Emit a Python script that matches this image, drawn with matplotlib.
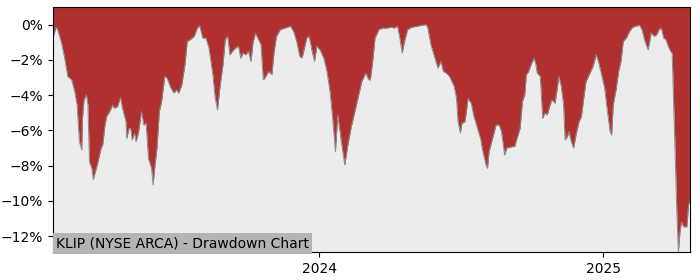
import numpy as np
import pandas as pd
import matplotlib
matplotlib.use('Agg')
import matplotlib.pyplot as plt
import matplotlib.dates as mdates
import matplotlib.ticker as mtick

ticker = 'KLIP'
exchange = 'NYSE ARCA'

# drawdown (%)
dates = [
    '2023-01-23', '2023-01-27', '2023-01-29', '2023-02-03', '2023-02-07', '2023-02-11',
    '2023-02-16', '2023-02-20', '2023-02-23', '2023-02-26', '2023-03-01', '2023-03-02',
    '2023-03-04', '2023-03-07', '2023-03-09', '2023-03-11', '2023-03-14', '2023-03-16',
    '2023-03-18', '2023-03-22', '2023-03-26', '2023-03-28', '2023-03-31', '2023-04-02',
    '2023-04-06', '2023-04-10', '2023-04-12', '2023-04-16', '2023-04-20', '2023-04-22',
    '2023-04-27', '2023-04-28', '2023-05-01', '2023-05-03', '2023-05-05', '2023-05-08',
    '2023-05-10', '2023-05-13', '2023-05-17', '2023-05-20', '2023-05-23', '2023-05-26',
    '2023-05-30', '2023-06-01', '2023-06-03', '2023-06-06', '2023-06-09', '2023-06-12',
    '2023-06-16', '2023-06-19', '2023-06-24', '2023-06-28', '2023-07-01', '2023-07-04',
    '2023-07-08', '2023-07-12', '2023-07-15', '2023-07-19', '2023-07-24', '2023-07-28',
    '2023-07-31', '2023-08-04', '2023-08-08', '2023-08-12', '2023-08-17', '2023-08-20',
    '2023-08-23', '2023-08-26', '2023-08-30', '2023-09-02', '2023-09-05', '2023-09-08',
    '2023-09-11', '2023-09-15', '2023-09-19', '2023-09-22', '2023-09-25', '2023-09-28',
    '2023-10-02', '2023-10-05', '2023-10-08', '2023-10-11', '2023-10-15', '2023-10-18',
    '2023-10-21', '2023-10-23', '2023-10-28', '2023-11-01', '2023-11-04', '2023-11-07',
    '2023-11-12', '2023-11-18', '2023-11-25', '2023-11-29', '2023-12-03', '2023-12-07',
    '2023-12-10', '2023-12-13', '2023-12-16', '2023-12-19', '2023-12-23', '2023-12-26',
    '2023-12-29', '2024-01-02', '2024-01-07', '2024-01-11', '2024-01-15', '2024-01-18',
    '2024-01-22', '2024-01-25', '2024-01-29', '2024-02-03', '2024-02-07', '2024-02-11',
    '2024-02-16', '2024-02-21', '2024-02-25', '2024-03-01', '2024-03-05', '2024-03-07',
    '2024-03-10', '2024-03-13', '2024-03-18', '2024-03-23', '2024-03-27', '2024-04-03',
    '2024-04-07', '2024-04-11', '2024-04-14', '2024-04-17', '2024-04-20', '2024-04-24',
    '2024-04-29', '2024-05-06', '2024-05-12', '2024-05-18', '2024-05-20', '2024-05-24',
    '2024-05-28', '2024-06-02', '2024-06-06', '2024-06-09', '2024-06-13', '2024-06-17',
    '2024-06-23', '2024-06-26', '2024-06-28', '2024-07-01', '2024-07-03', '2024-07-07',
    '2024-07-11', '2024-07-15', '2024-07-18', '2024-07-23', '2024-07-27', '2024-07-30',
    '2024-08-03', '2024-08-05', '2024-08-07', '2024-08-11', '2024-08-16', '2024-08-20',
    '2024-08-23', '2024-08-27', '2024-08-30', '2024-09-06', '2024-09-09', '2024-09-12',
    '2024-09-16', '2024-09-19', '2024-09-22', '2024-09-24', '2024-09-27', '2024-09-30',
    '2024-10-04', '2024-10-06', '2024-10-08', '2024-10-12', '2024-10-15', '2024-10-18',
    '2024-10-21', '2024-10-24', '2024-10-27', '2024-10-31', '2024-11-02', '2024-11-05',
    '2024-11-08', '2024-11-11', '2024-11-13', '2024-11-16', '2024-11-18', '2024-11-21',
    '2024-11-24', '2024-11-27', '2024-12-01', '2024-12-04', '2024-12-07', '2024-12-10',
    '2024-12-13', '2024-12-16', '2024-12-19', '2024-12-23', '2024-12-26', '2024-12-30',
    '2025-01-03', '2025-01-06', '2025-01-10', '2025-01-12', '2025-01-14', '2025-01-18',
    '2025-01-21', '2025-01-24', '2025-01-27', '2025-01-31', '2025-02-04', '2025-02-08',
    '2025-02-12', '2025-02-17', '2025-02-20', '2025-02-24', '2025-02-28', '2025-03-04',
    '2025-03-08', '2025-03-11', '2025-03-14', '2025-03-17', '2025-03-20', '2025-03-23',
    '2025-03-26', '2025-03-29', '2025-03-31', '2025-04-02', '2025-04-04', '2025-04-06',
    '2025-04-08', '2025-04-10', '2025-04-12', '2025-04-15', '2025-04-19', '2025-04-21',
    '2025-04-23',
]
drawdown = [
    -0.7, -0.15, -0.28, -1.04, -1.9, -2.94,
    -3.13, -3.8, -4.55, -6.64, -7.1, -5.3,
    -4.27, -3.98, -4.55, -7.78, -8.15, -8.8,
    -8.44, -7.78, -7.0, -6.83, -5.69, -5.22,
    -4.93, -4.55, -4.74, -4.65, -4.13, -4.65,
    -5.5, -6.45, -5.88, -5.88, -6.54, -6.16,
    -6.64, -6.16, -4.93, -5.69, -5.6, -7.6,
    -8.15, -9.1, -8.15, -7.0, -4.93, -4.36,
    -2.94, -3.03, -3.6, -3.88, -3.7, -3.88,
    -3.41, -2.28, -0.95, -0.85, -0.66, -0.19,
    -0.06, -0.76, -0.76, -1.33, -2.84, -4.17,
    -4.84, -3.6, -2.28, -0.85, -0.66, -1.71,
    -1.52, -1.33, -1.23, -1.9, -1.61, -1.71,
    -1.52, -2.09, -0.95, -0.5, -0.85, -1.14,
    -3.13, -3.03, -2.65, -2.84, -1.52, -0.66,
    -0.28, -0.19, -0.09, -0.38, -0.95, -1.8,
    -1.9, -1.33, -0.76, -0.66, -1.52, -2.09,
    -1.23, -1.42, -1.9, -2.65, -3.8, -5.12,
    -7.2, -5.12, -6.45, -7.96, -6.83, -5.88,
    -4.93, -3.98, -3.22, -2.75, -3.13, -3.13,
    -2.09, -0.76, -0.28, -0.19, -0.2, -0.15,
    -0.19, -0.09, -0.76, -1.61, -0.95, -0.28,
    -0.15, -0.09, -0.04, 0.0, -0.19, -1.14,
    -1.71, -2.46, -2.09, -2.65, -2.75, -2.94,
    -3.5, -4.17, -5.5, -6.16, -5.6, -5.5,
    -4.17, -4.46, -5.12, -5.88, -6.45, -7.2,
    -7.96, -8.15, -7.2, -6.54, -5.69, -5.69,
    -6.07, -7.39, -7.0, -6.92, -6.92, -6.45,
    -5.88, -4.36, -3.98, -2.84, -2.65, -2.28,
    -1.9, -2.18, -2.75, -2.94, -5.31, -5.02,
    -5.12, -4.65, -4.27, -4.46, -3.88, -2.94,
    -3.5, -4.55, -6.54, -6.35, -6.07, -6.64,
    -7.0, -6.26, -5.5, -5.22, -4.17, -3.22,
    -2.94, -2.65, -2.37, -1.71, -2.09, -2.84,
    -3.6, -4.74, -6.07, -6.26, -4.55, -3.6,
    -2.65, -2.09, -0.95, -0.76, -0.38, -0.15,
    -0.09, -0.04, -0.28, -0.95, -1.42, -0.47,
    -0.66, -0.57, -0.28, -0.19, -0.76, -0.85,
    -1.23, -1.52, -1.61, -4.55, -7.39, -10.6,
    -12.9, -11.76, -11.19, -11.47, -11.47, -10.24,
    -10.0,
]

x = pd.to_datetime(dates)
dd = np.array(drawdown)

fig = plt.figure(figsize=(7, 2.8), dpi=100)
ax = fig.add_axes([0.0757, 0.1, 0.91, 0.875])
ax.set_facecolor('#ececec')

top = 1.0
ax.fill_between(x, dd, top, color='#b03030', linewidth=0)
ax.plot(x, dd, color='#8a8a8a', linewidth=0.7)

ax.set_xlim(x[0], x[-1])
ax.set_ylim(dd.min(), top)
ax.set_yticks([0, -2, -4, -6, -8, -10, -12])
ax.yaxis.set_major_formatter(mtick.PercentFormatter(decimals=0))
ax.xaxis.set_major_locator(mdates.YearLocator())
ax.xaxis.set_major_formatter(mdates.DateFormatter('%Y'))
ax.tick_params(labelsize=10)

ax.text(0.005, 0.006, '%s (%s) - Drawdown Chart' % (ticker, exchange),
        transform=ax.transAxes, fontsize=10, ha='left', va='bottom',
        bbox=dict(facecolor='#b4b4b4', edgecolor='none', pad=2.2))

fig.savefig('out.png')
